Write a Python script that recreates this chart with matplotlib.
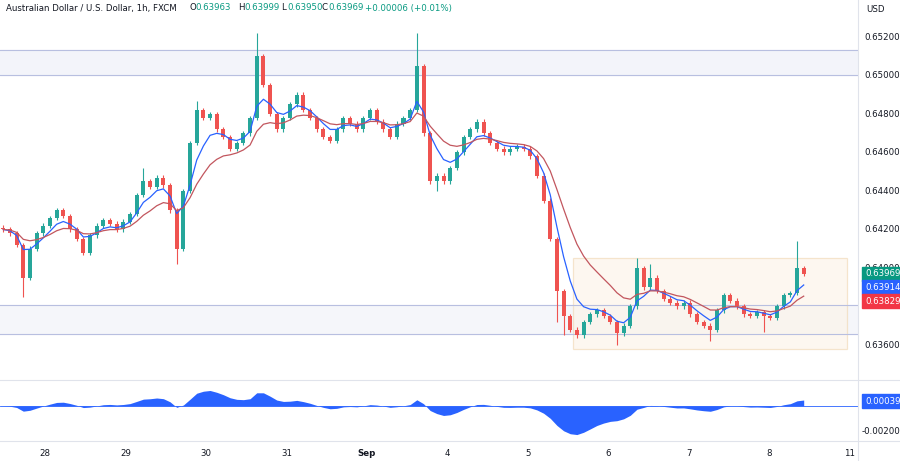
import matplotlib
matplotlib.use("Agg")
import matplotlib.pyplot as plt
import numpy as np
from matplotlib.patches import Rectangle

closes_bp = [420,418,412,395,410,418,422,426,430,427,420,415,408,417,422,425,423,420,424,428,
             438,445,442,447,443,430,410,440,465,482,478,480,472,468,462,465,470,478,510,495,
             480,472,478,485,490,482,478,472,468,466,472,478,475,472,478,482,476,472,468,475,
             478,482,505,470,445,448,445,452,460,468,472,476,470,465,462,460,462,463,462,458,
             448,435,415,388,375,368,365,372,376,378,375,372,366,370,380,400,390,395,388,384,
             382,380,382,376,372,370,368,378,386,383,380,376,375,377,375,374,380,386,387,400,397]
spike_high = {38: 522, 62: 522, 119: 414, 95: 405, 97: 402, 21: 452, 29: 487}
spike_low = {3: 385, 26: 402, 83: 372, 84: 365, 92: 360, 106: 362, 114: 367, 65: 440}
day_labels = ["28", "29", "30", "31", "Sep", "4", "5", "6", "7", "8", "11"]
day_px = [45, 126, 206, 287, 367, 447, 528, 608, 689, 769, 850]
price_ticks = [0.652, 0.650, 0.648, 0.646, 0.644, 0.642, 0.640, 0.638, 0.636]

closes = 0.6 + np.array(closes_bp) / 10000.0
opens = np.concatenate([[0.6421], closes[:-1]])
n = len(closes)
highs = np.maximum(opens, closes) + 0.00012
lows = np.minimum(opens, closes) - 0.00012
for k, v in spike_high.items(): highs[k] = 0.6 + v / 10000
for k, v in spike_low.items(): lows[k] = 0.6 + v / 10000

def ema(x, p):
    a = 2 / (p + 1); out = np.empty_like(x); out[0] = x[0]
    for i in range(1, len(x)): out[i] = a * x[i] + (1 - a) * out[i - 1]
    return out
fast = ema(closes, 5); slow = ema(closes, 12)
osc = fast - slow

W, H = 900, 461
FS = 6.2
fig = plt.figure(figsize=(9, 4.61), dpi=100)
px = lambda v: v / W
py = lambda v: 1 - v / H
ax = fig.add_axes([0, py(380), px(858), (380) / H])
ax2 = fig.add_axes([0, py(440), px(858), 58 / H])
for a in (ax, ax2):
    for s in a.spines.values(): s.set_visible(False)
    a.set_xticks([]); a.set_yticks([])
to_i = lambda p: (p - 3.3) / 6.67
xlim = (to_i(0), to_i(858))
ax.set_xlim(*xlim); ax2.set_xlim(*xlim)
ytop = 0.652 + 37 / 19250; ybot = 0.652 - 343 / 19250
ax.set_ylim(ybot, ytop)

ax.axhspan(0.6500, 0.65133, color="#f3f4fa", zorder=0)
ax.axhline(0.65133, color="#b8bfe0", lw=0.8); ax.axhline(0.6500, color="#b8bfe0", lw=0.8)
ax.axhspan(0.63657, 0.63808, color="#f5f6fa", zorder=0)
ax.axhline(0.63808, color="#b8bfe0", lw=0.8); ax.axhline(0.63657, color="#b8bfe0", lw=0.8)
ax.add_patch(Rectangle((to_i(573), 0.63579), to_i(847) - to_i(573), 0.00473,
                       facecolor="#fdf3e6", alpha=0.6, edgecolor="#f0d6b0", lw=0.9, zorder=0.5))

xs = np.arange(n)
up = closes >= opens
for i in range(n):
    c = "#26a69a" if up[i] else "#ef5350"
    ax.vlines(i, lows[i], highs[i], color=c, lw=0.8, zorder=2)
    b = min(opens[i], closes[i]); h = max(abs(closes[i] - opens[i]), 0.00004)
    ax.add_patch(Rectangle((i - 0.3, b), 0.6, h, color=c, zorder=3, lw=0))
ax.plot(xs, fast, color="#2962ff", lw=0.9, zorder=4)
ax.plot(xs, slow, color="#c2565e", lw=0.9, zorder=4)

ax2.set_ylim(-0.00272, 0.0019)
ax2.fill_between(xs, 0, osc * 0.8, color="#2962ff", lw=0)
ax2.axhline(0, color="#2962ff", lw=0.6)

fig.add_artist(plt.Line2D([0, 1], [py(380), py(380)], color="#e0e3eb", lw=0.8))
fig.add_artist(plt.Line2D([0, 1], [py(441), py(441)], color="#e0e3eb", lw=0.8))
fig.add_artist(plt.Line2D([px(858)] * 2, [0, 1], color="#e0e3eb", lw=0.8))

for p in price_ticks:
    y = 37 + (0.652 - p) * 19250
    fig.text(px(864), py(y), f"{p:.5f}", fontsize=FS, color="#131722", va="center")
for lab, xp in zip(day_labels, day_px):
    fig.text(px(xp), py(453), lab, fontsize=FS, color="#131722", ha="center", va="center",
             fontweight="bold" if lab == "Sep" else "normal")
fig.text(px(866), py(9), "USD", fontsize=FS, color="#131722", va="center")
fig.text(px(862), py(431), "-0.00200", fontsize=FS, color="#131722", va="center")

def tag(y, text, col):
    fig.text(px(865), py(y), text, fontsize=FS, color="white", va="center",
             bbox=dict(boxstyle="square,pad=0.3", fc=col, ec=col))
tag(274, "0.63969", "#089981"); tag(287, "0.63914", "#2962ff"); tag(301, "0.63829", "#f23645")
tag(401, "0.00039", "#2962ff")

fig.text(px(6), py(8), "Australian Dollar / U.S. Dollar, 1h, FXCM", fontsize=FS, color="#131722", va="center")
hdr = [("O", "0.63963", 189), ("H", "0.63999", 238), ("L", "0.63950", 281), ("C", "0.63969", 322)]
for k, v, xp in hdr:
    fig.text(px(xp), py(8), k, fontsize=FS, color="#131722", va="center")
    fig.text(px(xp + 6), py(8), v, fontsize=FS, color="#089981", va="center")
fig.text(px(365), py(8), "+0.00006 (+0.01%)", fontsize=FS, color="#089981", va="center")

fig.savefig("out.png", dpi=100, facecolor="white")
